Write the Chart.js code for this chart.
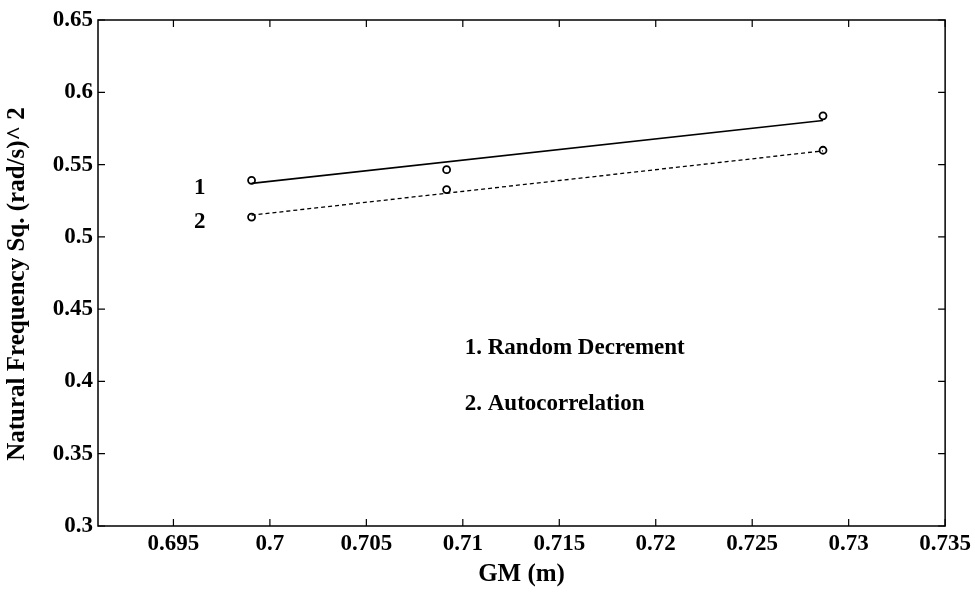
<!DOCTYPE html>
<html><head><meta charset="utf-8">
<script src="https://cdn.jsdelivr.net/npm/chart.js@4/dist/chart.umd.min.js"></script>
<style>html,body{margin:0;padding:0;background:#fff;}canvas{display:block}</style>
</head><body>
<canvas id="c" width="975" height="603"></canvas>
<script>
// ---- data ----
const gmValues = [0.69905, 0.70916, 0.72867];
const randomDecrement = [0.5391, 0.5465, 0.5837];
const autocorrelation = [0.5137, 0.5327, 0.5599];
const fitX = [0.69905, 0.72867];
const fitRandomDecrement = [0.537, 0.5805];
const fitAutocorrelation = [0.515, 0.5595];
const xTickLabels = ['0.695','0.7','0.705','0.71','0.715','0.72','0.725','0.73','0.735'];
const yTickLabels = ['0.3','0.35','0.4','0.45','0.5','0.55','0.6','0.65'];
const xLimits = [0.69109, 0.735];
const yLimits = [0.3, 0.65];
const lineLabels = ['1', '2'];
const lineLabelX = [0.69637, 0.69637];
const lineLabelY = [0.5336, 0.5102];
const legendTexts = ['1. Random Decrement', '2. Autocorrelation'];
const legendX = [0.7101, 0.7101];
const legendY = [0.4234, 0.3846];
const yTitle = 'Natural Frequency Sq. (rad/s)^ 2';
const xTitle = 'GM (m)';

const FONT = "'Liberation Serif', 'DejaVu Serif', serif";

const toPts = (xs, ys) => xs.map((x, i) => ({x, y: ys[i]}));

const framePlugin = {
  id: 'frame',
  afterDraw(chart) {
    const {ctx, chartArea: a, scales: {x, y}} = chart;
    ctx.save();
    ctx.strokeStyle = '#000';
    ctx.lineWidth = 1.5;
    ctx.strokeRect(a.left, a.top, a.right - a.left, a.bottom - a.top);
    const tl = 7;
    ctx.lineWidth = 1.2;
    ctx.beginPath();
    xTickLabels.forEach(t => {
      const px = x.getPixelForValue(parseFloat(t));
      ctx.moveTo(px, a.bottom); ctx.lineTo(px, a.bottom - tl);
      ctx.moveTo(px, a.top); ctx.lineTo(px, a.top + tl);
    });
    yTickLabels.forEach(t => {
      const py = y.getPixelForValue(parseFloat(t));
      ctx.moveTo(a.left, py); ctx.lineTo(a.left + tl, py);
      ctx.moveTo(a.right, py); ctx.lineTo(a.right - tl, py);
    });
    ctx.stroke();
    ctx.fillStyle = '#000';
    ctx.font = 'bold 23px ' + FONT;
    ctx.textBaseline = 'middle';
    ctx.textAlign = 'center';
    lineLabels.forEach((s, i) => {
      ctx.fillText(s, x.getPixelForValue(lineLabelX[i]), y.getPixelForValue(lineLabelY[i]));
    });
    ctx.textAlign = 'left';
    legendTexts.forEach((s, i) => {
      ctx.fillText(s, x.getPixelForValue(legendX[i]), y.getPixelForValue(legendY[i]));
    });
    // y axis title
    ctx.font = 'bold 25px ' + FONT;
    ctx.textAlign = 'center';
    ctx.translate(18, a.top + (a.bottom - a.top) / 2 + 11);
    ctx.rotate(-Math.PI / 2);
    ctx.fillText(yTitle, 0, 0);
    ctx.restore();
  }
};

new Chart(document.getElementById('c'), {
  type: 'scatter',
  data: {
    datasets: [
      { data: toPts(gmValues, randomDecrement), showLine: false, pointStyle: 'circle', pointRadius: 3.5,
        borderColor: '#000', backgroundColor: 'rgba(0,0,0,0)', pointBorderWidth: 1.8 },
      { data: toPts(gmValues, autocorrelation), showLine: false, pointStyle: 'circle', pointRadius: 3.5,
        borderColor: '#000', backgroundColor: 'rgba(0,0,0,0)', pointBorderWidth: 1.8 },
      { data: toPts(fitX, fitRandomDecrement), showLine: true, pointRadius: 0, borderColor: '#000', borderWidth: 1.6 },
      { data: toPts(fitX, fitAutocorrelation), showLine: true, pointRadius: 0, borderColor: '#000', borderWidth: 1.3, borderDash: [4, 3] }
    ]
  },
  options: {
    responsive: false,
    animation: false,
    events: [],
    layout: { padding: { left: 0, top: 20, right: 29, bottom: 0 } },
    plugins: { legend: { display: false }, tooltip: { enabled: false } },
    scales: {
      x: {
        type: 'linear', min: xLimits[0], max: xLimits[1],
        grid: { display: false, drawTicks: false },
        border: { display: false },
        afterBuildTicks: s => { s.ticks = xTickLabels.map(t => ({ value: parseFloat(t), label: t })); },
        afterFit: s => { s.height = 77; },
        ticks: { color: '#000', padding: 4, maxRotation: 0, autoSkip: false,
          font: { family: FONT, size: 23, weight: 'bold' },
          callback: (v, i) => xTickLabels[i] },
        title: { display: true, text: xTitle, color: '#000', padding: { top: 0, bottom: 13 },
          font: { family: FONT, size: 25, weight: 'bold' } }
      },
      y: {
        type: 'linear', min: yLimits[0], max: yLimits[1],
        grid: { display: false, drawTicks: false },
        border: { display: false },
        afterBuildTicks: s => { s.ticks = yTickLabels.map(t => ({ value: parseFloat(t), label: t })); },
        afterFit: s => { s.width = 98; },
        ticks: { color: '#000', padding: 5, autoSkip: false,
          font: { family: FONT, size: 23, weight: 'bold' },
          callback: (v, i) => yTickLabels[i] },
        title: { display: false }
      }
    }
  },
  plugins: [framePlugin]
});
</script>
</body></html>
